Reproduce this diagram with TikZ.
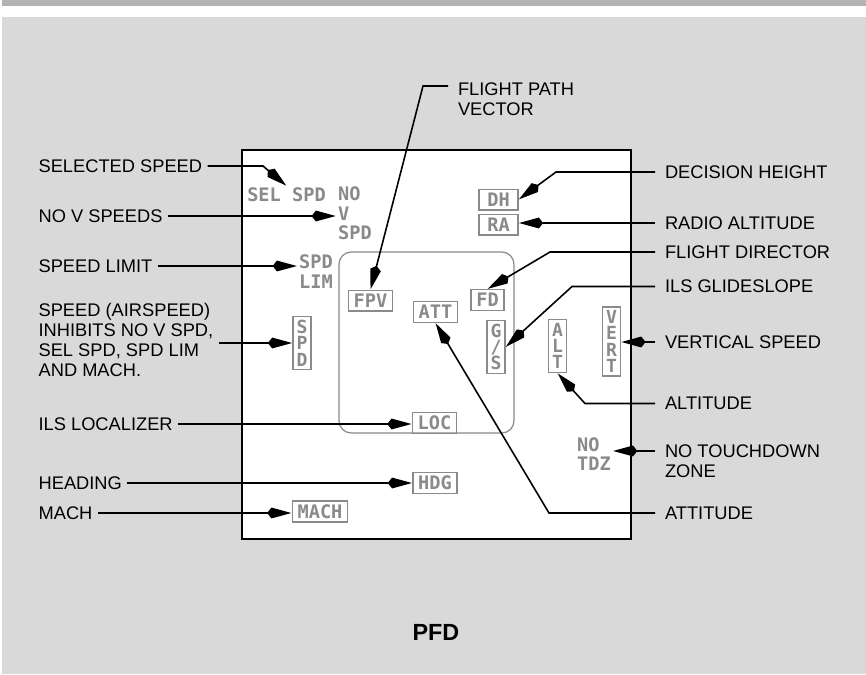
\documentclass[tikz,border=0pt]{standalone}
\usepackage{fontspec}
\setmainfont{Liberation Sans}
\newfontfamily\dispfont{DejaVu Sans Mono}
\usepackage{tikz}
\usetikzlibrary{arrows.meta, positioning, calc}
\definecolor{bandgray}{HTML}{B3B3B3}
\definecolor{panelgray}{HTML}{D9D9D9}
\definecolor{dispgray}{HTML}{8A8A8A}
\tikzset{
calloutL/.style={
anchor=west,
font=\fontsize{10.4}{11.3}\selectfont,
align=left,
inner xsep=3pt,
inner ysep=0pt
},
calloutR/.style={
anchor=west,
font=\fontsize{10.4}{11.3}\selectfont,
align=left,
inner xsep=5.5pt,
inner ysep=0pt
},
disptext/.style={
font=\dispfont\bfseries\fontsize{10.6}{11}\selectfont,
text=dispgray,
align=left,
inner sep=1pt
},
dispbox/.style={
draw=dispgray,
line width=0.8pt,
font=\dispfont\bfseries\fontsize{10.6}{11}\selectfont,
text=dispgray,
inner xsep=3pt,
inner ysep=2pt
},
dispstack/.style={
dispbox,
align=center,
font=\dispfont\bfseries\fontsize{10.3}{9.3}\selectfont,
inner xsep=2pt
},
pointer/.style={
-{Stealth[length=4mm,width=2mm,inset=-0.9mm]},
line width=0.9pt,
draw=black
}
}

\begin{document}
\begin{tikzpicture}[x=0.02cm, y=-0.02cm]

% backdrop and screen
\useasboundingbox (0,0) rectangle (866,674);
\fill[bandgray] (2,0) rectangle (866,6);
\fill[panelgray] (2,17) rectangle (866,674);
\draw[line width=0.9pt, fill=white] (242,150) rectangle (631,539);
\draw[dispgray, line width=0.7pt, rounded corners=7pt] (339,252) rectangle (514,433);

% display legends
\node[disptext] (selspd) at (286.5,195) {SEL SPD};
\node[disptext, anchor=west] (novspd) at (336,213.5) {NO\\V\\SPD};
\node[disptext] (spdlim) at (316,271.5) {SPD\\LIM};
\node[disptext, anchor=west] (notdz) at (575,454) {NO\\TDZ};

\node[dispbox] (fpv) at (370.5,300.5) {FPV};
\node[dispbox] (att) at (435.5,312) {ATT};
\node[dispbox] (fd) at (487.5,300) {FD};
\node[dispbox, minimum width=0.78cm] (dh) at (498.5,199.5) {DH};
\node[dispbox, minimum width=0.78cm] (ra) at (498.5,224.5) {RA};
\node[dispbox] (loc) at (434.5,423) {LOC};
\node[dispbox] (hdg) at (435,483) {HDG};
\node[dispbox] (mach) at (320,511.5) {MACH};
\node[dispstack] (spd) at (302,343) {S\\P\\D};
\node[dispstack] (gs) at (496,347) {G\\/\\S};
\node[dispstack] (alt) at (557.5,346) {A\\L\\T};
\node[dispstack] (vert) at (611.5,341.5) {V\\E\\R\\T};

% callouts, left
\node[calloutL] (lblselspd) at (33,166) {SELECTED SPEED};
\node[calloutL] (lblnovspd) at (33,216) {NO V SPEEDS};
\node[calloutL] (lblspdlim) at (33,266) {SPEED LIMIT};
\node[calloutL] (lblspeed) at (33,340)
  {SPEED (AIRSPEED)\\INHIBITS NO V SPD,\\SEL SPD, SPD LIM\\AND MACH.};
\node[calloutL] (lblloc) at (33,424) {ILS LOCALIZER};
\node[calloutL] (lblhdg) at (33,483) {HEADING};
\node[calloutL] (lblmach) at (33,513) {MACH};

% callouts, right
\node[calloutR] (lblfpv) at (448,99) {FLIGHT PATH\\VECTOR};
\node[calloutR] (lbldh) at (655,172) {DECISION HEIGHT};
\node[calloutR] (lblra) at (655,223) {RADIO ALTITUDE};
\node[calloutR] (lblfd) at (655,252) {FLIGHT DIRECTOR};
\node[calloutR] (lblgs) at (655,286.5) {ILS GLIDESLOPE};
\node[calloutR] (lblvert) at (655,342) {VERTICAL SPEED};
\node[calloutR] (lblalt) at (655,403.5) {ALTITUDE};
\node[calloutR] (lblnotdz) at (655,461.5) {NO TOUCHDOWN\\ZONE};
\node[calloutR] (lblatt) at (655,513) {ATTITUDE};

\node[font=\bfseries\fontsize{13.3}{16}\selectfont] (pfd) at (436,632) {PFD};

% bends
\coordinate (selknee) at (263,166);
\coordinate (fpvknee) at (423,86);
\coordinate (dhknee) at (556,172);
\coordinate (fdknee) at (550,252);
\coordinate (gsknee) at (572,286.5);
\coordinate (altknee) at (585,403.5);
\coordinate (attknee) at (549,513);

\draw[pointer] (lblselspd.east) -- (selknee) -- (selspd.north);
\draw[pointer] (lblnovspd.east) -- (lblnovspd.east -| novspd.west);
\draw[pointer] (lblspdlim.east) -- (lblspdlim.east -| spdlim.west);
\draw[pointer] (lblspeed.east |- spd.west) -- (spd.west);
\draw[pointer] (lblloc.east) -- (lblloc.east -| loc.west);
\draw[pointer] (lblhdg.east) -- (lblhdg.east -| hdg.west);
\draw[pointer] (lblmach.east) -- (lblmach.east -| mach.west);

\draw[pointer] (lblfpv.west |- fpvknee) -- (fpvknee) -- (fpv.north);
\draw[pointer] (lbldh.west) -- (dhknee) -- (dh.east);
\draw[pointer] (lblra.west) -- (lblra.west -| ra.east);
\draw[pointer] (lblfd.west) -- (fdknee) -- (fd.north);
\draw[pointer] (lblgs.west) -- (gsknee) -- (gs.east);
\draw[pointer] (lblvert.west) -- (lblvert.west -| vert.east);
\draw[pointer] (lblalt.west) -- (altknee) -- (alt.south);
\draw[pointer] ([yshift=6pt]lblnotdz.west) -- ([yshift=6pt]lblnotdz.west -| notdz.east);
\draw[pointer] (lblatt.west) -- (attknee) -- (att.south);

\end{tikzpicture}
\end{document}
